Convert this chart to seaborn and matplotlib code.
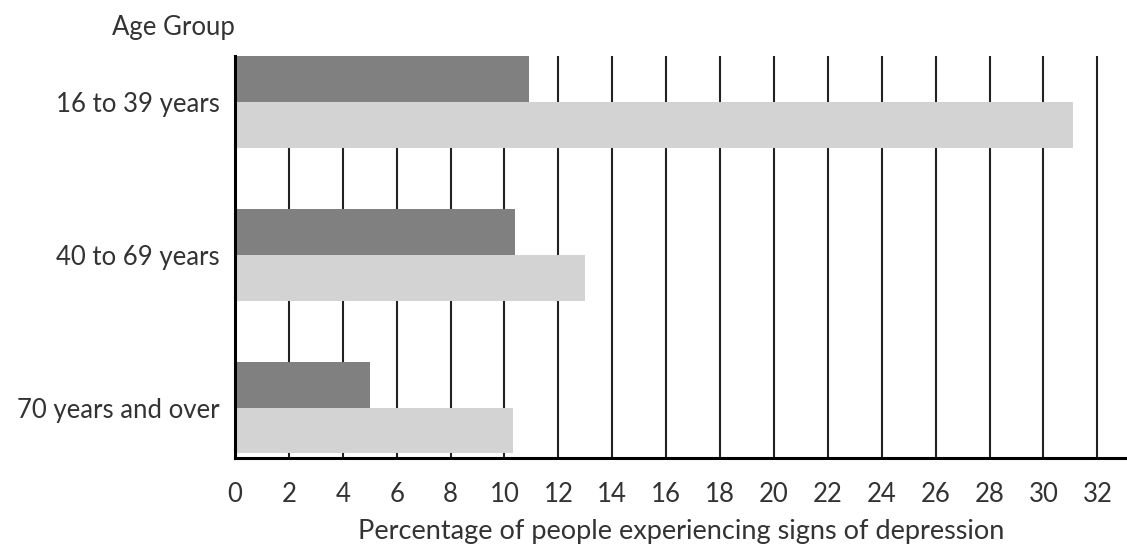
import pandas as pd
import seaborn as sns
import matplotlib.pyplot as plt

# Values
age_groups = ['16 to 39 years', '40 to 69 years', '70 years and over']
series_names = ['Series A', 'Series B']
series_a = [10.9, 10.4, 5.0]
series_b = [31.1, 13.0, 10.3]
x_ticks = list(range(0, 34, 2))

df = pd.DataFrame({
    'Age Group': age_groups * 2,
    'Series': [series_names[0]] * 3 + [series_names[1]] * 3,
    'Value': series_a + series_b,
})

sns.set_style('white')
plt.rcParams['font.family'] = ['Lato', 'DejaVu Sans']

fig = plt.figure(figsize=(11.27, 5.47), dpi=100)
ax = fig.add_axes([0.2085, 0.1627, 0.7915, 0.7349])

sns.barplot(data=df, y='Age Group', x='Value', hue='Series', orient='h',
            palette=['#808080', '#d3d3d3'], width=0.6, gap=0,
            saturation=1, legend=False, linewidth=0, ax=ax, zorder=3)

ax.set_xlim(0, 33.1)
ax.set_ylim(2.33, -0.3)
ax.set_xticks(x_ticks)
ax.grid(axis='x', color='#222222', linewidth=1.5, zorder=0)
ax.set_axisbelow(True)

for side in ['top', 'right']:
    ax.spines[side].set_visible(False)
for side in ['left', 'bottom']:
    ax.spines[side].set_color('black')
    ax.spines[side].set_linewidth(2.2)
    ax.spines[side].set_zorder(5)

text_color = '#333333'
ax.tick_params(axis='both', length=0, labelsize=18.5, colors=text_color)
ax.tick_params(axis='x', pad=17)
ax.tick_params(axis='y', pad=11)
ax.set_xlabel('Percentage of people experiencing signs of depression',
              fontsize=19.5, color=text_color, labelpad=9)
ax.set_ylabel('')
fig.text(0.099, 0.95, 'Age Group', fontsize=18.5, color=text_color, va='center')

plt.savefig('out.png', dpi=100)
plt.close()
